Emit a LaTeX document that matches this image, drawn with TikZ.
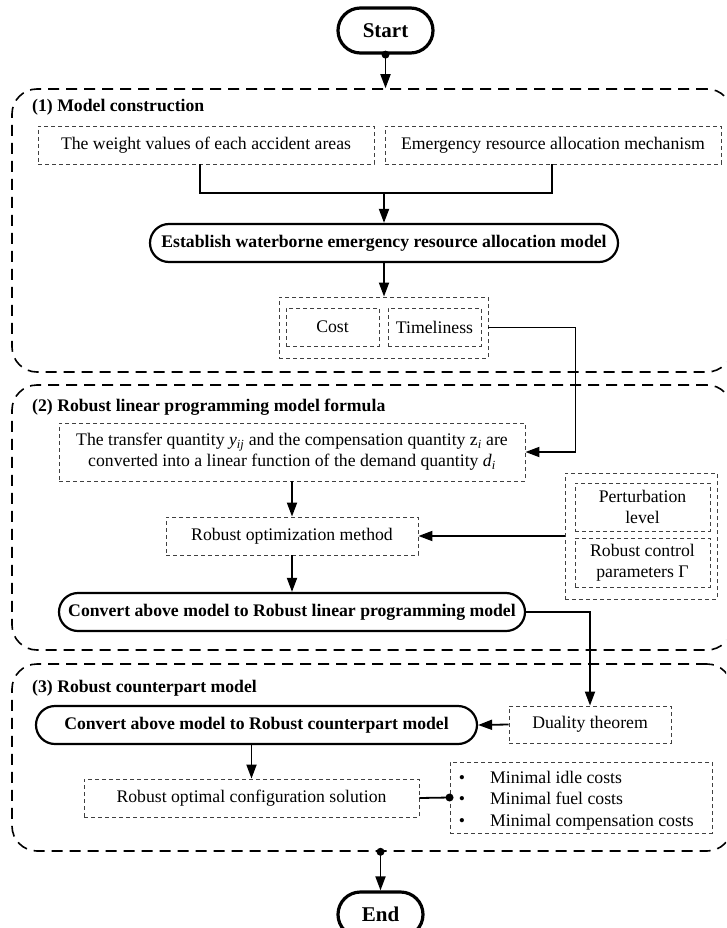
\documentclass[tikz,border=0pt]{standalone}
\usepackage{fontspec}
\setmainfont{Liberation Serif}
\usetikzlibrary{arrows.meta,shapes.misc}

\tikzset{
  basefont/.style={font=\fontsize{17.7pt}{21pt}\selectfont},
  secbox/.style={draw, rectangle, line width=1.6pt, dash pattern=on 11pt off 7pt,
                 rounded corners=25pt, inner sep=0pt},
  dbox/.style={draw=black!75, rectangle, line width=0.9pt, dash pattern=on 4pt off 3pt,
               inner sep=0pt, basefont},
  pill/.style={draw, rounded rectangle, line width=2.2pt, inner sep=0pt,
               font=\fontsize{17.7pt}{21pt}\selectfont\bfseries},
  term/.style={draw, rounded rectangle, line width=3.2pt, inner sep=0pt,
               font=\fontsize{21pt}{24pt}\selectfont\bfseries},
  title/.style={anchor=west, inner sep=0pt, font=\fontsize{17.7pt}{21pt}\selectfont\bfseries},
  arr/.style={line width=1.8pt, -{Triangle[length=14pt,width=10pt]}},
  link/.style={line width=1.8pt},
  dotmark/.style={circle, fill, inner sep=0pt, minimum size=8pt},
}

\begin{document}
\begin{tikzpicture}[x=1pt,y=-1pt]
\useasboundingbox (0,0) rectangle (726,928);
\clip (0,0) rectangle (726,928);

% stage frames
\node[secbox, minimum width=720pt, minimum height=283pt] (sec1) at (372,230.5) {};
\node[secbox, minimum width=720pt, minimum height=265pt] (sec2) at (372,517.5) {};
\node[secbox, minimum width=720pt, minimum height=187pt] (sec3) at (372,757.5) {};

\node[title] (t1) at (32,107) {(1) Model construction};
\node[title] (t2) at (32,407) {(2) Robust linear programming model formula};
\node[title] (t3) at (32,688) {(3) Robust counterpart model};

% terminals
\node[term, minimum width=95pt, minimum height=45pt] (start) at (385.5,30.5) {Start};
\node[term, minimum width=85pt, minimum height=45pt] (end) at (380.5,914.5) {End};

% stage 1
\node[dbox, minimum width=336pt, minimum height=38pt] (boxA) at (206,145) {The weight values of each accident areas};
\node[dbox, minimum width=336pt, minimum height=38pt] (boxB) at (553,145) {Emergency resource allocation mechanism};
\node[pill, minimum width=468pt, minimum height=38pt] (est) at (384,243) {Establish waterborne emergency resource allocation model};
\node[dbox, minimum width=209pt, minimum height=61pt] (ct) at (383.5,327.5) {};
\node[dbox, minimum width=93pt, minimum height=38pt] (cost) at (332.5,327) {Cost};
\node[dbox, minimum width=93pt, minimum height=38pt] (time) at (434.5,327) {Timeliness};

% stage 2
\node[dbox, minimum width=466pt, minimum height=58pt, align=center] (transfer) at (292,452)
  {The transfer quantity \textit{y}\textsubscript{\textit{ij}} and the compensation quantity z\textsubscript{\textit{i}} are\\
   converted into a linear function of the demand quantity \textit{d}\textsubscript{\textit{i}}};
\node[dbox, minimum width=252pt, minimum height=38pt] (ropt) at (292,536) {Robust optimization method};
\node[dbox, minimum width=152pt, minimum height=126pt] (param) at (641,536) {};
\node[dbox, minimum width=135pt, minimum height=48pt, align=center] (pert) at (642.5,507) {Perturbation\\level};
\node[dbox, minimum width=135pt, minimum height=49pt, align=center] (rcp) at (642.5,562.5) {Robust control\\parameters Γ};
\node[pill, minimum width=466pt, minimum height=38pt] (clp) at (292,612) {Convert above model to Robust linear programming model};

% stage 3
\node[pill, minimum width=441pt, minimum height=38pt] (ccm) at (256.5,725) {Convert above model to Robust counterpart model};
\node[dbox, minimum width=162pt, minimum height=37pt] (dual) at (590,724.5) {Duality theorem};
\node[dbox, minimum width=335pt, minimum height=38pt] (rocs) at (251.5,798) {Robust optimal configuration solution};
\node[dbox, minimum width=262pt, minimum height=71pt] (minbox) at (581,797.5) {};
\foreach \yy/\txt [count=\k] in {783/Minimal idle costs, 804/Minimal fuel costs, 826/Minimal compensation costs}{
  \node[basefont, inner sep=0pt, anchor=base] (b\k) at (462,\yy) {\textbullet};
  \node[basefont, inner sep=0pt, anchor=base west] (m\k) at (490,\yy) {\txt};
}

% connectors
\node[dotmark] (sdot) at (start.south) {};
\draw[arr] (sdot.center) -- (start.south |- sec1.north);

\coordinate (j) at (384,193);
\draw[link] ([xshift=-6pt]boxA.south) |- (j) -| ([xshift=-1pt]boxB.south);
\draw[arr] (j) -- (est.north);
\draw[arr] (est.south) -- (ct.north -| est.south);
\draw[arr] (ct.east) -- ++(87,0) |- (transfer.east);

\draw[arr] (transfer.south) -- (ropt.north);
\draw[arr] (param.west) -- (ropt.east);
\draw[arr] (ropt.south) -- (clp.north);
\draw[arr] (clp.east) -| (dual.north);

\draw[arr] (dual.west) -- (ccm.east);
\draw[arr] (rocs.north |- ccm.south) -- (rocs.north);
\node[dotmark] (mdot) at (minbox.west) {};
\draw[link] (rocs.east) -- (mdot.center);

\node[dotmark] (edot) at (end.north |- sec3.south) {};
\draw[arr] (edot.center) -- (end.north);
\end{tikzpicture}
\end{document}
